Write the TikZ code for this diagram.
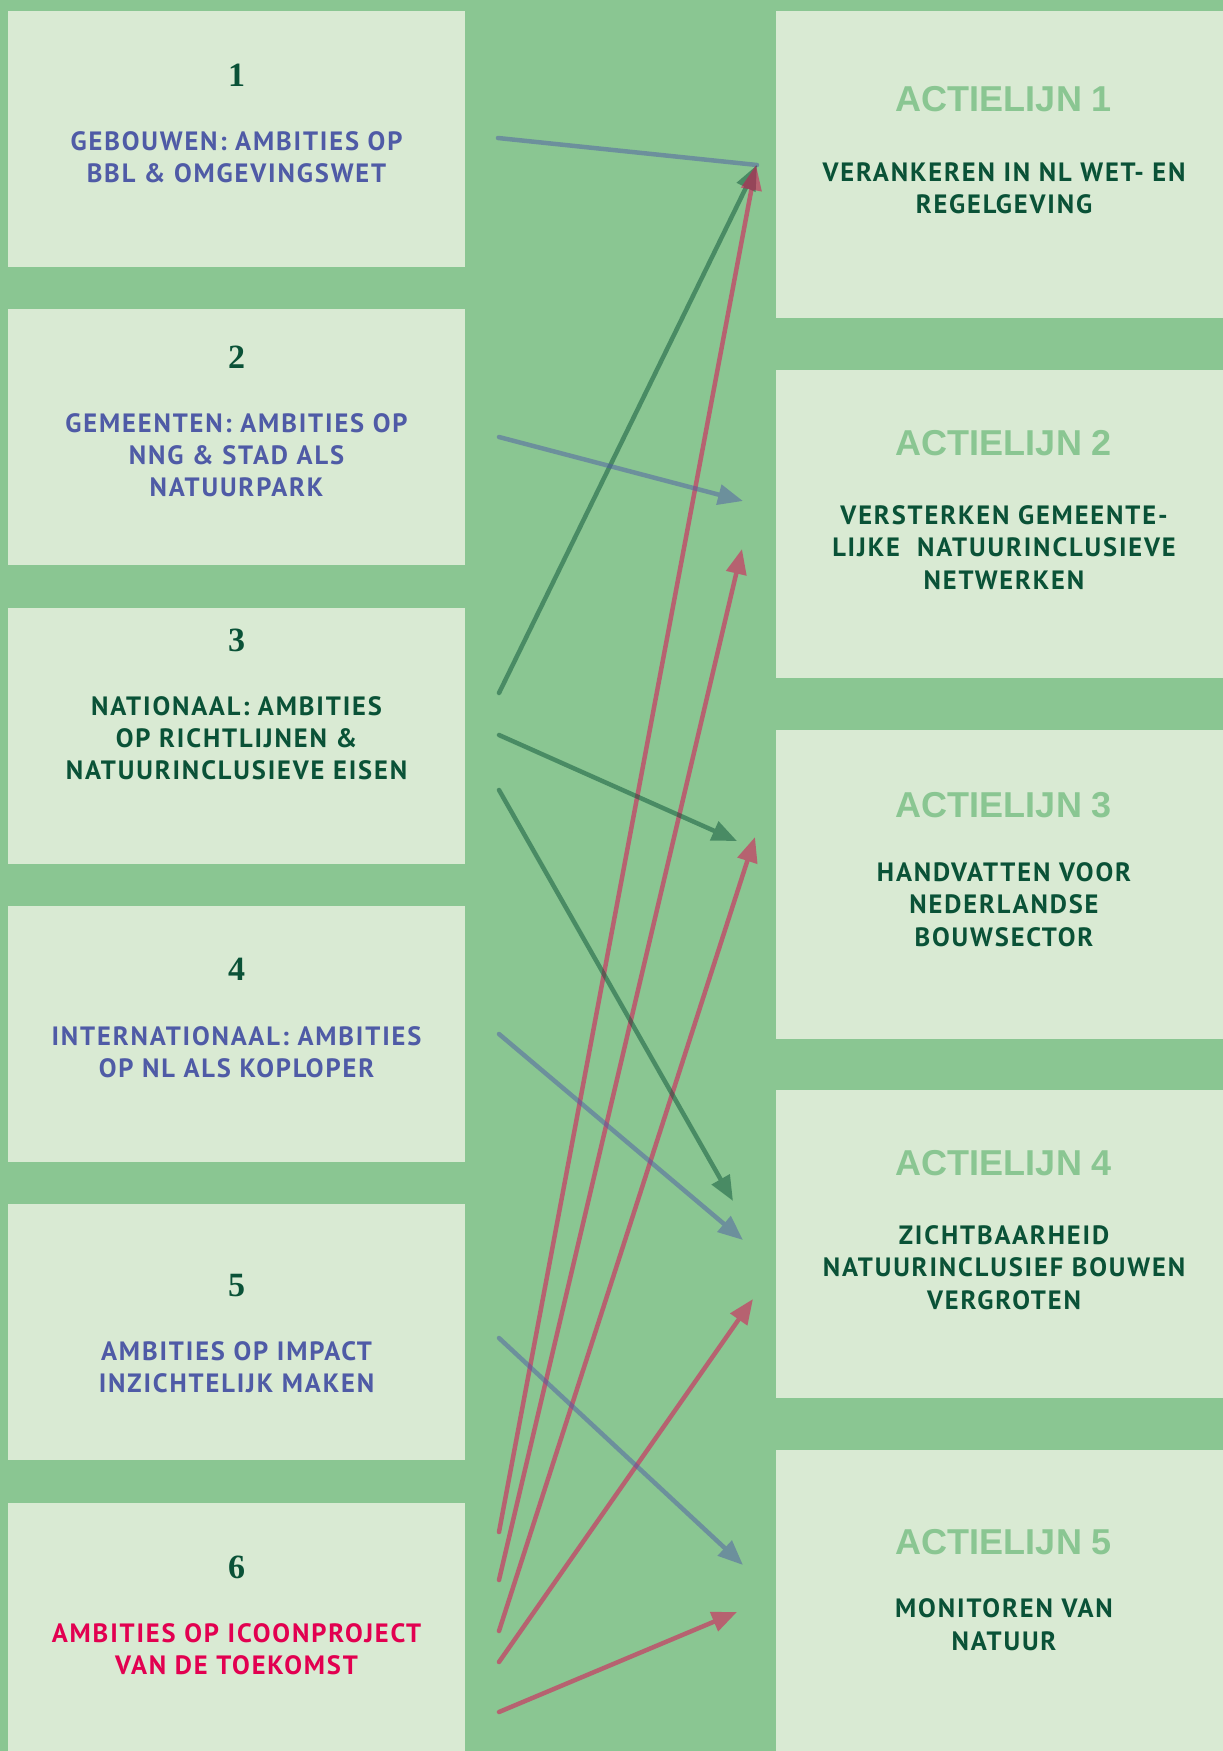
\documentclass[tikz,border=0pt]{standalone}
\usepackage{fontspec}
\usetikzlibrary{arrows.meta}
\newfontfamily\bodyfont[LetterSpace=7]{PT Sans}
\newfontfamily\titlefont{Liberation Sans}
\newfontfamily\numfont{Liberation Serif}
\definecolor{bg}{RGB}{138,198,146}
\definecolor{boxfill}{RGB}{217,234,211}
\definecolor{dgreen}{RGB}{10,82,55}
\definecolor{tblue}{RGB}{79,91,166}
\definecolor{tred}{RGB}{226,0,80}
\tikzset{
 lbox/.style={fill=boxfill, minimum width=457pt, minimum height=256pt, inner sep=0pt, outer sep=0pt},
 rbox/.style={fill=boxfill, minimum width=447pt, minimum height=308pt, inner sep=0pt, outer sep=0pt},
 num/.style={font=\numfont\bfseries\fontsize{34}{34}\selectfont, text=dgreen, anchor=base, inner sep=0pt},
 body/.style={font=\bodyfont\bfseries\fontsize{26.5}{32}\selectfont, align=center, anchor=base, inner sep=0pt},
 ttl/.style={font=\titlefont\bfseries\fontsize{36}{36}\selectfont, text=bg, anchor=base, inner sep=0pt},
 sub/.style={font=\bodyfont\bfseries\fontsize{26.5}{32.3}\selectfont, text=dgreen, align=center, anchor=base, inner sep=0pt},
 conn/.style={line width=4.5pt, line cap=round},
 tipd/.style={-{Triangle[length=25pt,width=20pt]}},
 grp/.style={transparency group, opacity=.5},
}
\begin{document}
\begin{tikzpicture}[x=1pt,y=-1pt]
\fill[bg] (0,0) rectangle (1223,1751);
\useasboundingbox (0,0) rectangle (1223,1751);
% left boxes
\node[lbox] (L1) at (236.5,139) {};
\node[lbox] (L2) at (236.5,436.5) {};
\node[lbox] (L3) at (236.5,736) {};
\node[lbox] (L4) at (236.5,1034) {};
\node[lbox] (L5) at (236.5,1332) {};
\node[lbox, minimum height=248pt] (L6) at (236.5,1627) {};
% right boxes
\node[rbox, minimum height=307pt] (R1) at (999.5,164.5) {};
\node[rbox] (R2) at (999.5,524) {};
\node[rbox, minimum height=309pt] (R3) at (999.5,884.5) {};
\node[rbox] (R4) at (999.5,1244) {};
\node[rbox, minimum height=301pt] (R5) at (999.5,1600.5) {};
% left texts (anchor = baseline of last line)
\node[num] (n1) at (236.5,86) {1};
\node[body, text=tblue] (t1) at (236.5,182) {GEBOUWEN: AMBITIES OP\\BBL \& OMGEVINGSWET};
\node[num] (n2) at (236.5,368.5) {2};
\node[body, text=tblue] (t2) at (236.5,496) {GEMEENTEN: AMBITIES OP\\NNG \& STAD ALS\\NATUURPARK};
\node[num] (n3) at (236.5,651) {3};
\node[body, text=dgreen] (t3) at (236.5,779) {NATIONAAL: AMBITIES\\OP RICHTLIJNEN \&\\NATUURINCLUSIEVE EISEN};
\node[num] (n4) at (236.5,980.5) {4};
\node[body, text=tblue] (t4) at (236.5,1077) {INTERNATIONAAL: AMBITIES\\OP NL ALS KOPLOPER};
\node[num] (n5) at (236.5,1296.5) {5};
\node[body, text=tblue] (t5) at (236.5,1392) {AMBITIES OP IMPACT\\INZICHTELIJK MAKEN};
\node[num] (n6) at (236.5,1578) {6};
\node[body, text=tred] (t6) at (236.5,1674) {AMBITIES OP ICOONPROJECT\\VAN DE TOEKOMST};
% right texts
\node[ttl] (h1) at (1004,111) {ACTIELIJN 1};
\node[sub] (s1) at (1004,213.5) {VERANKEREN IN NL WET- EN\\REGELGEVING};
\node[ttl] (h2) at (1004,455) {ACTIELIJN 2};
\node[sub] (s2) at (1004,589) {VERSTERKEN GEMEENTE-\\LIJKE \ NATUURINCLUSIEVE\\NETWERKEN};
\node[ttl] (h3) at (1004,817) {ACTIELIJN 3};
\node[sub] (s3) at (1004,946) {HANDVATTEN VOOR\\NEDERLANDSE\\BOUWSECTOR};
\node[ttl] (h4) at (1004,1175) {ACTIELIJN 4};
\node[sub] (s4) at (1004,1309) {ZICHTBAARHEID\\NATUURINCLUSIEF BOUWEN\\VERGROTEN};
\node[ttl] (h5) at (1004,1554) {ACTIELIJN 5};
\node[sub] (s5) at (1004,1650) {MONITOREN VAN\\NATUUR};
% connector ends
\coordinate (a1s) at (498,138);   \coordinate (a1e) at (757,165);
\coordinate (a2s) at (499,693);   \coordinate (a2e) at (757,165);
\coordinate (a3s) at (499,1532);  \coordinate (a3e) at (756,165);
\coordinate (a4s) at (499,437);   \coordinate (a4e) at (743,501);
\coordinate (a5s) at (499,1580);  \coordinate (a5e) at (742,549);
\coordinate (a6s) at (499,735);   \coordinate (a6e) at (737,841);
\coordinate (a7s) at (499,1631);  \coordinate (a7e) at (755,837);
\coordinate (a8s) at (499,790);   \coordinate (a8e) at (733,1201);
\coordinate (a9s) at (499,1034);  \coordinate (a9e) at (743,1240);
\coordinate (a10s) at (499,1662); \coordinate (a10e) at (753,1299);
\coordinate (a11s) at (499,1338); \coordinate (a11e) at (743,1565);
\coordinate (a12s) at (499,1712); \coordinate (a12e) at (737,1612);
% connectors
\begin{scope}[grp]\draw[conn, tblue] (a1s) -- (a1e);\end{scope}
\begin{scope}[grp]\draw[conn, tipd, dgreen] (a2s) -- (a2e);\end{scope}
\begin{scope}[grp]\draw[conn, tipd, tred] (a3s) -- (a3e);\end{scope}
\begin{scope}[grp]\draw[conn, tipd, tblue] (a4s) -- (a4e);\end{scope}
\begin{scope}[grp]\draw[conn, tipd, tred] (a5s) -- (a5e);\end{scope}
\begin{scope}[grp]\draw[conn, tipd, dgreen] (a6s) -- (a6e);\end{scope}
\begin{scope}[grp]\draw[conn, tipd, tred] (a7s) -- (a7e);\end{scope}
\begin{scope}[grp]\draw[conn, tipd, dgreen] (a8s) -- (a8e);\end{scope}
\begin{scope}[grp]\draw[conn, tipd, tblue] (a9s) -- (a9e);\end{scope}
\begin{scope}[grp]\draw[conn, tipd, tred] (a10s) -- (a10e);\end{scope}
\begin{scope}[grp]\draw[conn, tipd, tblue] (a11s) -- (a11e);\end{scope}
\begin{scope}[grp]\draw[conn, tipd, tred] (a12s) -- (a12e);\end{scope}
\end{tikzpicture}
\end{document}
